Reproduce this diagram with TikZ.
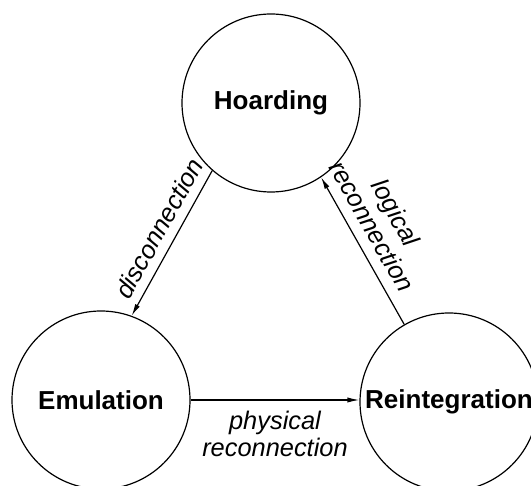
\documentclass[tikz,border=0pt]{standalone}
\usepackage{fontspec}
\setmainfont{Liberation Sans}
\usetikzlibrary{arrows.meta}

\begin{document}
\begin{tikzpicture}[
	x=0.5pt,y=-0.5pt,
	line width=0.6pt,
	state/.style={circle,draw,minimum size=89pt,inner sep=0pt,font=\fontsize{13}{14}\selectfont\bfseries},
	trans/.style={-{Latex[length=6pt,width=2.6pt]}},
	lbl/.style={font=\fontsize{12.7}{13.6}\selectfont\itshape,align=center}
]
	\useasboundingbox (0,0) rectangle (531,486);
	\clip (0,0) rectangle (531,486);
	\node[state] (hoard) at (271,103) {Hoarding};
	\node[state] (emul) at (101,400) {Emulation};
	\node[state] (reint) at (449,402) {Reintegration};
	\draw[trans] (hoard.229) -- node[lbl,sloped,above=1pt,pos=0.46] {disconnection} (emul.70);
	\draw[trans] (reint.120) -- node[lbl,sloped,above=2pt,pos=0.6] {logical\\reconnection} (hoard.304);
	\draw[trans] (emul.east) -- node[lbl,below=2pt] {physical\\reconnection} (emul.east -| reint.west);
\end{tikzpicture}
\end{document}
